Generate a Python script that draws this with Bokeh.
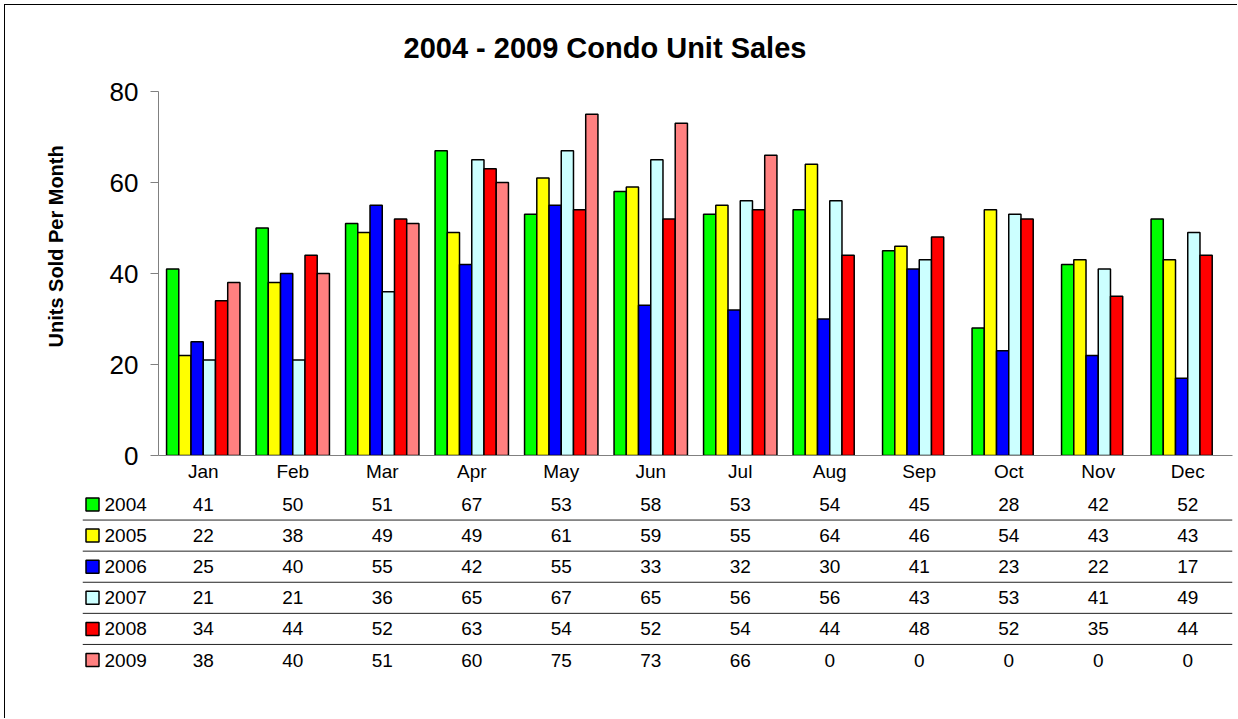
from bokeh.plotting import figure
from bokeh.models import ColumnDataSource, FactorRange, Range1d, FixedTicker, Title, Span
from bokeh.transform import dodge
from bokeh.embed import file_html
from bokeh.resources import INLINE
from bokeh.core.properties import value

# ---------------- data ----------------
months = ["Jan", "Feb", "Mar", "Apr", "May", "Jun", "Jul", "Aug", "Sep", "Oct", "Nov", "Dec"]
years = ["2004", "2005", "2006", "2007", "2008", "2009"]
s2004 = [41, 50, 51, 67, 53, 58, 53, 54, 45, 28, 42, 52]
s2005 = [22, 38, 49, 49, 61, 59, 55, 64, 46, 54, 43, 43]
s2006 = [25, 40, 55, 42, 55, 33, 32, 30, 41, 23, 22, 17]
s2007 = [21, 21, 36, 65, 67, 65, 56, 56, 43, 53, 41, 49]
s2008 = [34, 44, 52, 63, 54, 52, 54, 44, 48, 52, 35, 44]
s2009 = [38, 40, 51, 60, 75, 73, 66, 0, 0, 0, 0, 0]
y_ticks = [0, 20, 40, 60, 80]

series = [s2004, s2005, s2006, s2007, s2008, s2009]
colors = ["#00FF00", "#FFFF00", "#0000FF", "#CCFFFF", "#FF0000", "#FF8080"]

FONT = "Liberation Sans"

# ---------------- layout constants (pixels) ----------------
FIG_W = 1233
FRAME_LEFT = 153
FRAME_W = 1074
FRAME_RIGHT = FIG_W - FRAME_LEFT - FRAME_W
A_TOP, A_FRAME_H, A_BOTTOM = 86, 364, 33
A_H = A_TOP + A_FRAME_H + A_BOTTOM
B_H = 231
CAT_PX = FRAME_W / len(months)
LEG_PX = 76               # width of the legend column left of the chart frame
ROW_PX = 31.1
FIRST_ROW_PX = 17         # from top of table figure to first row centre
SW_PX, LAB_PX = 10, 22    # swatch centre / label start inside legend column

# ---------------- chart figure ----------------
pA = figure(width=FIG_W, height=A_H, x_range=FactorRange(*months), y_range=Range1d(0, 80),
            output_backend="svg", toolbar_location=None,
            min_border_left=FRAME_LEFT, min_border_right=FRAME_RIGHT,
            min_border_top=A_TOP, min_border_bottom=A_BOTTOM,
            styles={"margin-left": "4px", "margin-top": "4px",
                    "border-left": "1px solid #000", "border-top": "1px solid #000"})
pA.outline_line_color = None
pA.xgrid.grid_line_color = None
pA.ygrid.grid_line_color = None

group_w = 0.82
bw = group_w / len(series)
for i, (yr, vals, col) in enumerate(zip(years, series, colors)):
    src = ColumnDataSource(dict(month=[m for m, v in zip(months, vals) if v > 0],
                                val=[v for v in vals if v > 0]))
    pA.vbar(x=dodge("month", (i - (len(series) - 1) / 2) * bw, range=pA.x_range),
            top="val", width=bw, source=src, fill_color=col,
            line_color="black", line_width=1.5)

ya = pA.yaxis[0]
ya.ticker = FixedTicker(ticks=y_ticks)
ya.major_tick_in = 0
ya.major_tick_out = 8
ya.minor_tick_line_color = None
ya.axis_line_color = "#808080"
ya.major_tick_line_color = "#808080"
ya.major_label_text_font = FONT
ya.major_label_text_font_size = "26px"
ya.major_label_text_color = "black"
ya.major_label_standoff = 12

xa = pA.xaxis[0]
xa.axis_line_color = "#808080"
xa.major_tick_line_color = None
xa.major_tick_in = 0
xa.major_tick_out = 0
xa.major_label_text_font = FONT
xa.major_label_text_font_size = "19px"
xa.major_label_text_color = "black"
xa.major_label_standoff = 5

pA.title.text = "2004 - 2009 Condo Unit Sales"
pA.title.text_font = FONT
pA.title.text_font_size = "29px"
pA.title.text_font_style = "bold"
pA.title.text_color = "black"
pA.title.align = "left"
pA.title.vertical_align = "top"
pA.title.offset = 245
pA.title.standoff = 51

ylab = Title(text="Units Sold Per Month", text_font=FONT, text_font_size="20px",
             text_font_style="bold", text_color="black", align="left",
             vertical_align="top", offset=108, standoff=76)
pA.add_layout(ylab, "left")

# ---------------- data table figure ----------------
B_FRAME_W = FRAME_W + LEG_PX
leg_units = LEG_PX / CAT_PX
top_units = FIRST_ROW_PX / ROW_PX
pB = figure(width=FIG_W, height=B_H,
            x_range=Range1d(-leg_units, len(months)),
            y_range=Range1d(top_units - B_H / ROW_PX, top_units),
            output_backend="svg", toolbar_location=None,
            x_axis_type=None, y_axis_type=None,
            min_border_left=FIG_W - FRAME_RIGHT - B_FRAME_W, min_border_right=FRAME_RIGHT,
            min_border_top=0, min_border_bottom=0,
            styles={"margin-left": "4px", "border-left": "1px solid #000"})
pB.outline_line_color = None
pB.xgrid.grid_line_color = None
pB.ygrid.grid_line_color = None

xs, ys, txt = [], [], []
for r, vals in enumerate(series):
    for c, v in enumerate(vals):
        xs.append(c + 0.5)
        ys.append(-r)
        txt.append(str(v))
pB.text(x=xs, y=ys, text=txt, text_align="center", text_baseline="middle",
        text_font=value(FONT), text_font_size="19px", text_color="black")

sw_x = (SW_PX - LEG_PX) / CAT_PX
lab_x = (LAB_PX - LEG_PX) / CAT_PX
rows = [-r for r in range(len(years))]
pB.rect(x=[sw_x] * len(years), y=rows, width=13, height=13,
        width_units="screen", height_units="screen",
        fill_color=colors, line_color="black", line_width=1.5)
pB.text(x=[lab_x] * len(years), y=rows, text=years, text_align="left",
        text_baseline="middle", text_font=value(FONT), text_font_size="19px",
        text_color="black")

for r in range(len(years) - 1):
    pB.add_layout(Span(location=-r - 0.5, dimension="width",
                       line_color="#222222", line_width=1))

with open("out.html", "w") as f:
    f.write(file_html([pA, pB], INLINE))
